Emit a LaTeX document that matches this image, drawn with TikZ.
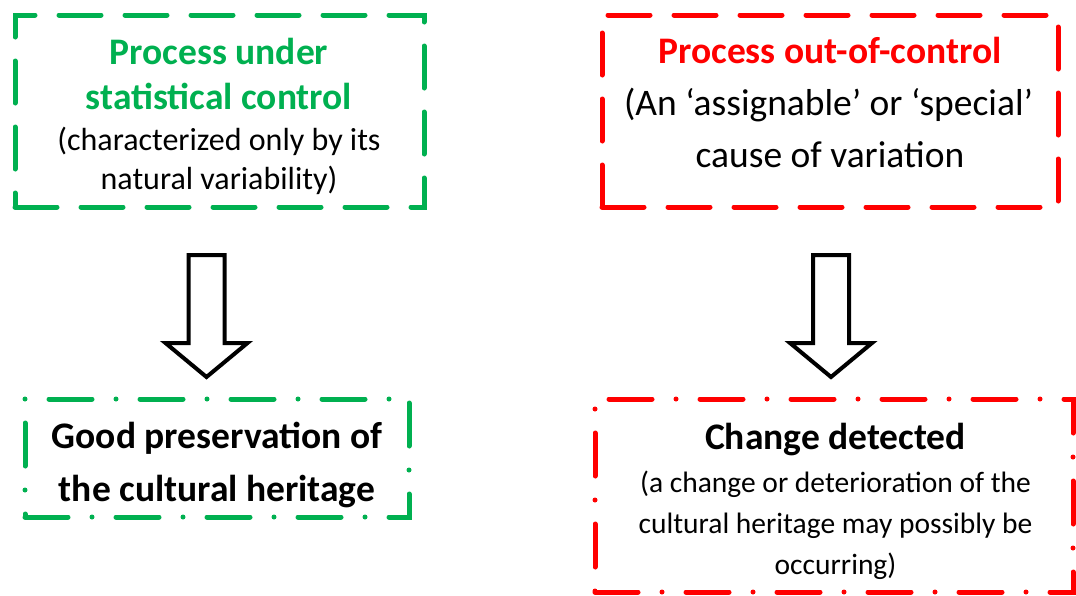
\documentclass[tikz,border=0pt]{standalone}
\usepackage{fontspec}
\setmainfont{Carlito}
\usetikzlibrary{calc}
\definecolor{mygreen}{HTML}{00B050}
\definecolor{myred}{HTML}{FF0000}
\tikzset{
  dashbox/.style={draw, line width=5pt, line cap=round, dash pattern=on 42pt off 24pt, inner sep=0pt},
  dotdashbox/.style={draw, line width=5pt, line cap=round, dash pattern=on 43pt off 24pt on 0pt off 24pt, inner sep=0pt},
  txt/.style={anchor=base, inner sep=0pt},
  blockarrow/.style={draw=black, line width=4pt, fill=white, line join=miter},
}
\newcommand{\fs}[1]{\fontsize{#1}{#1}\selectfont}
\begin{document}
\begin{tikzpicture}[x=1pt,y=-1pt]
\useasboundingbox (0,0) rectangle (1076,595);
% boxes
\node[dashbox, draw=mygreen, minimum width=409pt, minimum height=192pt] (b1) at (219.5,111) {};
\node[dashbox, draw=myred, minimum width=456pt, minimum height=192pt] (b2) at (830,111) {};
\node[dotdashbox, draw=mygreen, minimum width=384pt, minimum height=118pt] (b3) at (217,458) {};
\node[dotdashbox, draw=myred, minimum width=478pt, minimum height=193pt] (b4) at (834,495.5) {};
% texts box 1
\node[txt, text=mygreen] (t11) at (219,64) {\fs{37.5}\bfseries Process under};
\node[txt, text=mygreen] (t12) at (219,109) {\fs{37.5}\bfseries statistical control};
\node[txt] (t13) at (219,150) {\fs{32}(characterized only by its};
\node[txt] (t14) at (219,189) {\fs{32}natural variability)};
% texts box 2
\node[txt, text=myred] (t21) at (830,63) {\fs{37.5}\bfseries Process out-of-control};
\node[txt] (t22) at (828.5,115) {\fs{37.5}(An ‘assignable’ or ‘special’};
\node[txt] (t23) at (830,167) {\fs{37.5}cause of variation};
% texts box 3
\node[txt] (t31) at (217,448) {\fs{37.5}\bfseries Good preservation of};
\node[txt] (t32) at (217,501) {\fs{37.5}\bfseries the cultural heritage};
% texts box 4
\node[txt] (t41) at (835.5,449) {\fs{37.5}\bfseries Change detected};
\node[txt] (t42) at (835.5,492) {\fs{29.5}(a change or deterioration of the};
\node[txt] (t43) at (835.5,533) {\fs{29.5}cultural heritage may possibly be};
\node[txt] (t44) at (835.5,574) {\fs{29.5}occurring)};
% arrows
\coordinate (a1) at (206.5,255);
\coordinate (a1t) at (206.5,377);
\coordinate (a2) at (831,255);
\coordinate (a2t) at (831,377);
\draw[blockarrow] ($(a1)+(-18,0)$) -- ($(a1)+(18,0)$) -- ($(a1t)+(18,-34)$) -- ($(a1t)+(41,-34)$) -- (a1t) -- ($(a1t)+(-41,-34)$) -- ($(a1t)+(-18,-34)$) -- cycle;
\draw[blockarrow] ($(a2)+(-18,0)$) -- ($(a2)+(18,0)$) -- ($(a2t)+(18,-34)$) -- ($(a2t)+(41,-34)$) -- (a2t) -- ($(a2t)+(-41,-34)$) -- ($(a2t)+(-18,-34)$) -- cycle;
\end{tikzpicture}
\end{document}
